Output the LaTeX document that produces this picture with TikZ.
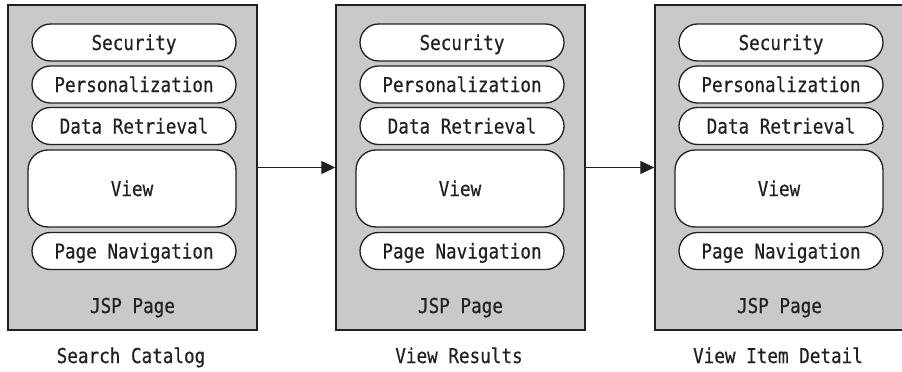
\documentclass[tikz,border=0pt]{standalone}
\usepackage{fontspec}
\newfontfamily\labelfont[FakeStretch=0.86,FakeBold=0.5]{DejaVu Sans Mono}
\usetikzlibrary{arrows.meta}
\definecolor{pagegray}{RGB}{201,201,201}
\definecolor{ink}{RGB}{35,31,32}
\tikzset{
  page/.style={draw=ink, line width=1.4pt, fill=pagegray, minimum width=249pt,
    minimum height=325pt, inner sep=0pt},
  pill/.style={draw=ink, line width=1.3pt, fill=white, rounded corners=18.5pt,
    minimum width=204pt, minimum height=37pt, inner sep=0pt},
  viewbox/.style={draw=ink, line width=1.3pt, fill=white, rounded corners=20pt,
    minimum width=208pt, minimum height=77pt, inner sep=0pt},
  lbl/.style={text=ink, inner sep=0pt},
  flow/.style={draw=ink, line width=1.3pt, -{Triangle[length=14pt,width=13pt]}},
}
\begin{document}
\begin{tikzpicture}[x=1pt,y=-1pt,
  every node/.append style={font=\labelfont\fontsize{20.5}{24}\selectfont,
    text=ink, text height=15pt, text depth=0pt}]
\useasboundingbox (0,0) rectangle (902,372);
\foreach \i/\left/\caption in {1/8/Search Catalog, 2/336/View Results, 3/655/View Item Detail}{
  \node[page] (b\i) at (\left+124.5,167.5) {};
  \node[pill] (sec\i) at (\left+126,42.5) {Security};
  \node[pill] (per\i) at (\left+126,84.5) {Personalization};
  \node[pill] (dat\i) at (\left+126,126) {Data Retrieval};
  \node[viewbox] (view\i) at (\left+124,188.5) {View};
  \node[pill] (nav\i) at (\left+126,251) {Page Navigation};
  \node[lbl] (jsp\i) at (\left+124.5,305.5) {JSP Page};
  \node[lbl] (cap\i) at (\left+123,355.5) {\caption};
}
\draw[flow] (b1.east) -- (b2.west);
\draw[flow] (b2.east) -- (b3.west);
\end{tikzpicture}
\end{document}
